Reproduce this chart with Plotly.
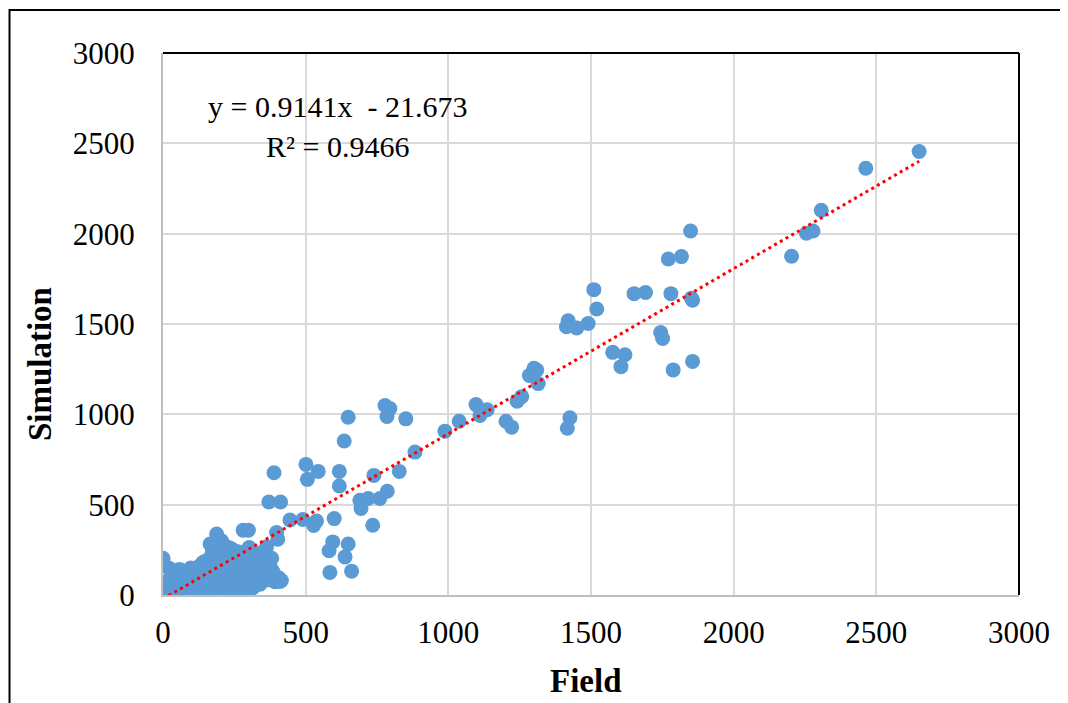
import plotly.graph_objects as go

# Field (x) and Simulation (y) values
field = [
    2650, 2463, 2307, 2255, 2278, 2203, 1849, 1771, 1817, 1510, 1520, 1651, 1691, 1780,
    1856, 1852, 1420, 1414, 1450, 1490, 1744, 1751, 1576, 1619, 1605, 1788, 1856,
    1284, 1300, 1310, 1315, 1426, 1417, 1241, 1257, 1202, 1222, 1111, 1136, 1097,
    1038, 988, 883, 851, 778, 795, 785, 649, 635, 828, 739, 501, 544, 506, 618, 618,
    389, 371, 412, 690, 719, 760, 786, 694, 490, 538, 528, 600, 735, 595, 582, 649,
    638, 585, 661, 445,
    0, 5, 8, 12, 15, 18, 22, 25, 28, 30,
    35, 40, 42, 48, 52, 55, 60, 65, 70, 75, 78,
    85, 88, 92, 98, 102, 108, 112, 118, 122, 128, 132, 138,
    142, 148, 152, 158, 160, 165, 168, 172, 176, 180, 185, 188, 192, 196, 199,
    202, 205, 208, 212, 215, 218, 222, 226, 230, 234, 238, 242, 246, 250, 255, 258,
    262, 266, 270, 275, 281, 285, 290, 295, 299, 302, 305, 310, 315, 318,
    325, 330, 335, 340, 345, 350, 357, 357, 363, 363, 370, 375, 381, 385, 392, 398,
    402, 405, 410, 415, 217, 299, 200, 215, 232, 245, 140, 120, 60, 20,
]
simulation = [
    2455, 2362, 2130, 2002, 2015, 1875, 2015, 1860, 1873, 1690, 1583, 1668, 1674, 1668,
    1632, 1643, 1518, 1485, 1478, 1503, 1453, 1420, 1343, 1330, 1264, 1246, 1293,
    1215, 1255, 1245, 1170, 981, 923, 1073, 1098, 962, 929, 994, 1025, 1054,
    962, 907, 791, 975, 1049, 1032, 988, 984, 852, 684, 662, 723, 684, 640, 684, 603,
    677, 515, 515, 524, 534, 534, 574, 479, 418, 410, 385, 423, 386, 294, 245, 282,
    211, 125, 132, 415,
    203, 20, 55, 0, 35, 80, 10, 60, 100, 25,
    45, 5, 120, 75, 30, 140, 90, 15, 55, 110, 35,
    130, 70, 20, 150, 45, 95, 10, 125, 65, 160, 30, 100,
    145, 55, 190, 120, 15, 282, 80, 230, 160, 40, 210, 337, 110, 260, 175,
    60, 300, 140, 225, 20, 185, 95, 250, 160, 45, 205, 120, 70, 180, 140, 30,
    240, 100, 170, 60, 359, 210, 130, 80, 359, 263, 175, 110, 40, 200,
    150, 90, 230, 60, 185, 120, 239, 156, 267, 83, 100, 160, 203, 130, 73, 346,
    309, 95, 75, 80, 9, 9, 290, 275, 262, 250, 180, 60, 140, 150,
]

# Trendline as reported on the chart
slope = 0.9141
intercept = -21.673
eq_text = "y = 0.9141x  - 21.673"
r2_text = "R² = 0.9466"

axis_ticks = [0, 500, 1000, 1500, 2000, 2500, 3000]

x_min, x_max = min(field), max(field)
trend_x = [x_min, x_max]
trend_y = [slope * v + intercept for v in trend_x]

FONT = "Liberation Serif, Times New Roman, serif"

fig = go.Figure()
fig.add_trace(go.Scatter(
    x=field, y=simulation, mode="markers",
    marker=dict(size=15, color="#5B9BD5", line=dict(width=0)),
    showlegend=False,
))
fig.add_trace(go.Scatter(
    x=trend_x, y=trend_y, mode="lines",
    line=dict(color="#FF0000", width=3, dash="3px,3.6px"),
    showlegend=False,
))

axis_common = dict(
    range=[0, 3000], tickvals=axis_ticks,
    showgrid=True, gridcolor="#D9D9D9", gridwidth=2,
    showline=True, linecolor="#BFBFBF", linewidth=2,
    zeroline=False, ticks="",
    tickfont=dict(family=FONT, size=31, color="black"),
)
fig.update_xaxes(**axis_common, ticklabelstandoff=9)
fig.update_yaxes(**axis_common, ticklabelstandoff=20)

fig.update_layout(
    width=1060, height=695,
    margin=dict(l=155, r=49, t=45, b=108),
    plot_bgcolor="white", paper_bgcolor="white",
    font=dict(family=FONT, color="black"),
    annotations=[
        dict(text=eq_text, x=613, y=2705, xref="x", yref="y", showarrow=False,
             xanchor="center", yanchor="middle",
             font=dict(family=FONT, size=30, color="black")),
        dict(text=r2_text, x=613, y=2484, xref="x", yref="y", showarrow=False,
             xanchor="center", yanchor="middle",
             font=dict(family=FONT, size=30, color="black")),
        dict(text="<b>Field</b>", x=0.494, y=-0.159, xref="paper", yref="paper",
             xanchor="center", yanchor="middle",
             showarrow=False, font=dict(family=FONT, size=33, color="black")),
        dict(text="<b>Simulation</b>", x=-0.1437, y=0.426, xref="paper", yref="paper",
             xanchor="center", yanchor="middle",
             showarrow=False, textangle=-90,
             font=dict(family=FONT, size=33, color="black")),
    ],
    shapes=[
        dict(type="line", xref="paper", yref="paper", x0=0, x1=1, y0=1, y1=1,
             line=dict(color="black", width=2)),
        dict(type="line", xref="paper", yref="paper", x0=1, x1=1, y0=0, y1=1,
             line=dict(color="black", width=2)),
        dict(type="rect", xref="paper", yref="paper",
             x0=-0.1793, x1=1.0549, y0=-0.21, y1=1.0794,
             line=dict(color="black", width=2)),
    ],
)

fig.write_html("out.html")
